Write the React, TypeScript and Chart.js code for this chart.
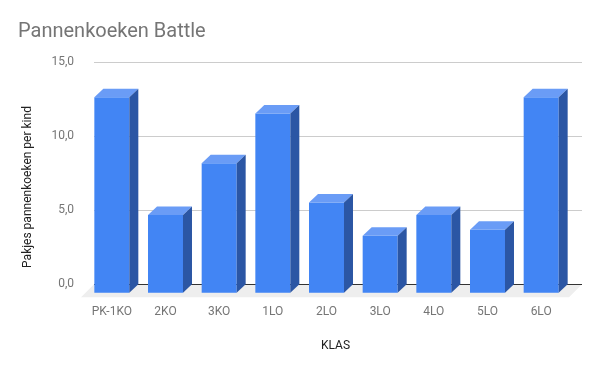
import React, { useEffect, useRef } from 'react';
import { Chart, registerables } from 'chart.js';

Chart.register(...registerables);

// ---- data ----
const categories = ['PK-1KO', '2KO', '3KO', '1LO', '2LO', '3LO', '4LO', '5LO', '6LO'];
const packsPerChild = [13.2, 5.25, 8.75, 12.1, 6.1, 3.85, 5.25, 4.25, 13.2];
const yTickValues = [0, 5, 10, 15];
const chartTitle = 'Pannenkoeken Battle';
const yAxisTitle = 'Pakjes pannenkoeken per kind';
const xAxisTitle = 'KLAS';

// ---- style ----
const DX = 9;
const DY = 8.5;
const FLOOR_DX = 13;
const FLOOR_DY = 13;
const GRID_EXTRA = 5;
const FRONT = '#4285f4';
const TOP = '#6a9cf6';
const SIDE = '#2b56a4';
const FONT = 'Roboto';

const fmt = (v: number) => v.toFixed(1).replace('.', ',');

const threeD = {
  id: 'threeD',
  beforeDatasetsDraw(chart: any) {
    const { ctx, chartArea: a, scales } = chart;
    const y = scales.y;
    const base = y.getPixelForValue(0);
    ctx.save();
    ctx.fillStyle = '#eeeeee';
    ctx.beginPath();
    ctx.moveTo(a.left, base);
    ctx.lineTo(a.right + GRID_EXTRA, base);
    ctx.lineTo(a.right + GRID_EXTRA - FLOOR_DX, base + FLOOR_DY);
    ctx.lineTo(a.left - FLOOR_DX, base + FLOOR_DY);
    ctx.closePath();
    ctx.fill();
    ctx.lineWidth = 1;
    for (const t of y.ticks) {
      const py = Math.round(y.getPixelForValue(t.value)) + 0.5;
      ctx.strokeStyle = t.value === 0 ? '#333333' : '#cccccc';
      ctx.beginPath();
      ctx.moveTo(a.left, py);
      ctx.lineTo(a.right + GRID_EXTRA, py);
      ctx.stroke();
    }
    ctx.restore();
  },
  beforeDatasetDraw(chart: any) {
    chart.ctx.save();
    chart.ctx.translate(-DX, DY);
  },
  afterDatasetDraw(chart: any, args: any) {
    const ctx = chart.ctx;
    ctx.restore();
    ctx.save();
    for (const bar of args.meta.data) {
      const { x, y, base, width } = bar.getProps(['x', 'y', 'base', 'width'], true);
      const bl = x - width / 2;
      const br = x + width / 2;
      const fl = bl - DX;
      const fr = br - DX;
      const ft = y + DY;
      const fb = base + DY;
      ctx.fillStyle = TOP;
      ctx.beginPath();
      ctx.moveTo(fl, ft);
      ctx.lineTo(bl, y);
      ctx.lineTo(br, y);
      ctx.lineTo(fr, ft);
      ctx.closePath();
      ctx.fill();
      ctx.fillStyle = SIDE;
      ctx.beginPath();
      ctx.moveTo(fr, ft);
      ctx.lineTo(br, y);
      ctx.lineTo(br, base);
      ctx.lineTo(fr, fb);
      ctx.closePath();
      ctx.fill();
    }
    ctx.restore();
  },
  afterDraw(chart: any) {
    const ctx = chart.ctx;
    ctx.save();
    ctx.translate(27.5, 187);
    ctx.rotate(-Math.PI / 2);
    ctx.textAlign = 'center';
    ctx.textBaseline = 'middle';
    ctx.font = `12px ${FONT}`;
    ctx.fillStyle = '#222222';
    ctx.fillText(yAxisTitle, 0, 0);
    ctx.restore();
  },
};

export default function App() {
  const ref = useRef<HTMLCanvasElement | null>(null);
  useEffect(() => {
    if (!ref.current) return;
    Chart.defaults.font.family = FONT;
    const chart = new Chart(ref.current, {
      type: 'bar',
      data: {
        labels: categories,
        datasets: [
          {
            data: packsPerChild,
            backgroundColor: FRONT,
            borderWidth: 0,
            categoryPercentage: 1,
            barPercentage: 0.652,
            clip: false as any,
          },
        ],
      },
      options: {
        responsive: false,
        animation: false,
        events: [],
        layout: { padding: { left: 18, right: 23, top: 0, bottom: 17.9 } },
        plugins: {
          legend: { display: false },
          tooltip: { enabled: false },
          title: {
            display: true,
            text: chartTitle,
            align: 'start',
            color: '#757575',
            font: { size: 20, weight: 'normal', family: FONT },
            padding: { top: 19.5, bottom: 18.5 },
          },
        },
        scales: {
          x: {
            grid: { display: false, drawTicks: false },
            border: { display: false },
            ticks: {
              color: '#757575',
              font: { size: 12, family: FONT },
              padding: 20,
              labelOffset: -DX,
              maxRotation: 0,
              autoSkip: false,
            },
            title: {
              display: true,
              text: xAxisTitle,
              color: '#222222',
              font: { size: 12, family: FONT },
              padding: { top: 0, bottom: 0 },
            },
          },
          y: {
            min: 0,
            max: 15,
            afterBuildTicks: (s: any) => {
              s.ticks = yTickValues.map((v) => ({ value: v }));
            },
            afterFit: (s: any) => {
              s.width = 76;
            },
            grid: { display: false, drawTicks: false },
            border: { display: false },
            ticks: {
              color: '#757575',
              font: { size: 12, family: FONT },
              padding: 20,
              callback: (v: any) => fmt(Number(v)),
            },
          },
        },
      },
      plugins: [threeD],
    });
    return () => chart.destroy();
  }, []);
  return (
    <div style={{ position: 'absolute', left: 0, top: 0, width: 600, height: 371, background: '#fff' }}>
      <canvas ref={ref} width={600} height={371} style={{ display: 'block' }} />
    </div>
  );
}
